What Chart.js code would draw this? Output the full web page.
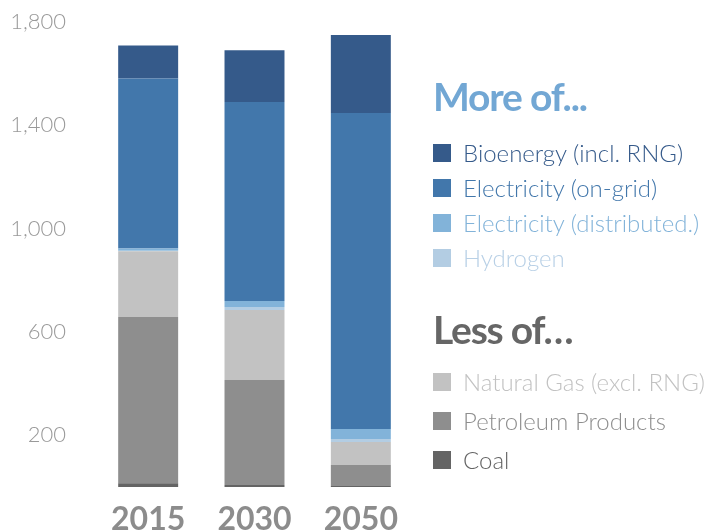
<!DOCTYPE html>
<html>
<head>
<meta charset="utf-8">
<script src="https://cdn.jsdelivr.net/npm/chart.js@4"></script>
<style>
  html, body { margin: 0; padding: 0; background: #fff; }
  #wrap { position: relative; width: 704px; height: 531px; }
  #chart { position: absolute; left: 0; top: 0; }
  .lg { position: absolute; font-family: Lato, sans-serif; white-space: nowrap; line-height: 1; }
  .head { font-weight: 700; font-size: 39px; letter-spacing: -1.2px; }
  .item { font-weight: 300; font-size: 24px; display: flex; align-items: center; }
  .sw { width: 18px; height: 18px; margin-right: 12px; display: inline-block; flex: none; }
</style>
</head>
<body>
<div id="wrap">
  <canvas id="chart" width="704" height="531"></canvas>
  <div id="legend"></div>
</div>
<script>
// ---- data ----
const categories = ["2015", "2030", "2050"];
const coal        = [15, 8, 4];
const petroleum   = [643, 406, 81];
const naturalGas  = [255, 271, 89];
const hydrogen    = [2, 12, 12];
const distributed = [8, 23, 39];
const onGrid      = [658, 770, 1223];
const bioenergy   = [128, 201, 302];
const yTickValues = [200, 600, 1000, 1400, 1800];

const seriesNames = {
  bio: "Bioenergy (incl. RNG)",
  grid: "Electricity (on-grid)",
  dist: "Electricity (distributed.)",
  h2: "Hydrogen",
  gas: "Natural Gas (excl. RNG)",
  pet: "Petroleum Products",
  coal: "Coal"
};
const colors = {
  bio: "#355a8a", grid: "#4277ab", dist: "#82b3d9", h2: "#b3cde3",
  gas: "#c2c2c2", pet: "#8e8e8e", coal: "#646464"
};

const mk = (key, data) => ({
  label: seriesNames[key], data, backgroundColor: colors[key],
  borderWidth: 0, barPercentage: 1, categoryPercentage: 0.564, stack: "s"
});

new Chart(document.getElementById("chart"), {
  type: "bar",
  data: {
    labels: categories,
    datasets: [
      mk("coal", coal), mk("pet", petroleum), mk("gas", naturalGas),
      mk("h2", hydrogen), mk("dist", distributed), mk("grid", onGrid), mk("bio", bioenergy)
    ]
  },
  options: {
    responsive: false,
    animation: false,
    layout: { padding: { top: 22, right: 290, left: 0, bottom: 0 } },
    plugins: { legend: { display: false }, tooltip: { enabled: false } },
    scales: {
      x: {
        stacked: true,
        grid: { display: false, drawTicks: false },
        border: { display: false },
        ticks: { color: "#8c8c8c", padding: 13, font: { family: "Lato", weight: "bold", size: 32 } },
        afterFit: s => { s.height = 44; s.paddingLeft = 0; s.paddingRight = 0; }
      },
      y: {
        stacked: true, min: 0, max: 1800,
        grid: { display: false, drawTicks: false },
        border: { display: false },
        afterBuildTicks: s => { s.ticks = yTickValues.map(v => ({ value: v })); },
        ticks: {
          color: "#999999", padding: 29,
          font: { family: "Lato", weight: 300, size: 22 },
          callback: v => v.toLocaleString("en-US")
        },
        afterFit: s => { s.width = 95; s.paddingTop = 0; s.paddingBottom = 0; }
      }
    }
  }
});

// ---- legend (HTML text) ----
const legend = document.getElementById("legend");
function add(html, x, y, cls, color) {
  const d = document.createElement("div");
  d.className = "lg " + cls;
  d.style.left = x + "px"; d.style.top = y + "px"; d.style.color = color;
  d.innerHTML = html; legend.appendChild(d);
}
add("More of...", 433, 77, "head", "#72a7d4");
const moreKeys = ["bio", "grid", "dist", "h2"];
const moreText = { bio: "#355a8a", grid: "#4277ab", dist: "#82b3d9", h2: "#b8d0e6" };
moreKeys.forEach((k, i) => {
  add('<span class="sw" style="background:' + colors[k] + '"></span>' + seriesNames[k],
      433, 141 + i * 35, "item", moreText[k]);
});
add("Less of…", 433, 310, "head", "#666666");
const lessKeys = ["gas", "pet", "coal"];
const lessText = { gas: "#c2c2c2", pet: "#8e8e8e", coal: "#646464" };
lessKeys.forEach((k, i) => {
  add('<span class="sw" style="background:' + colors[k] + '"></span>' + seriesNames[k],
      433, 370 + i * 39, "item", lessText[k]);
});
</script>
</body>
</html>
